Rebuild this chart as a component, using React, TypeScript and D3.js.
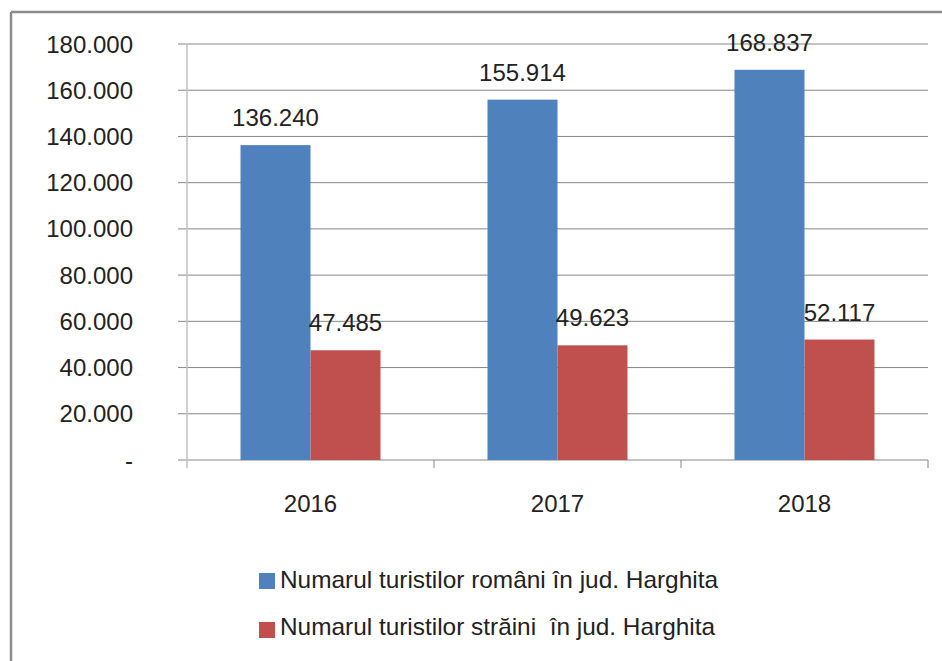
import React from "react";
import * as d3 from "d3";

const categories = ["2016", "2017", "2018"];
const romani = [136240, 155914, 168837];
const straini = [47485, 49623, 52117];
const seriesNames = [
  "Numarul turistilor români în jud. Harghita",
  "Numarul turistilor străini  în jud. Harghita",
];
const seriesColors = ["#4F81BD", "#C0504D"];
const yTicks = [0, 20000, 40000, 60000, 80000, 100000, 120000, 140000, 160000, 180000];

const W = 942;
const H = 661;
const plotLeft = 187;
const plotRight = 928;
const plotTop = 44;
const plotBottom = 460;
const FONT = "'Liberation Sans', Arial, sans-serif";

const fmt = (v: number) => (v === 0 ? "-" : d3.format(",")(v).replace(/,/g, "."));

export default function App() {
  const x = d3.scaleBand<string>().domain(categories).range([plotLeft, plotRight]);
  const y = d3.scaleLinear().domain([0, 180000]).range([plotBottom, plotTop]);
  const barW = 70;
  const series = [romani, straini];

  return (
    <svg
      width={W}
      height={H}
      style={{ position: "absolute", left: 0, top: 0, background: "#fff" }}
      fontFamily={FONT}
    >
      <rect x={0} y={0} width={W} height={H} fill="#fff" />
      {/* outer border */}
      <line x1={11} y1={12} x2={W} y2={12} stroke="#8c8c8c" strokeWidth={2.5} />
      <line x1={11} y1={12} x2={11} y2={H} stroke="#8c8c8c" strokeWidth={2.5} />

      {/* gridlines */}
      {yTicks.map((t) => (
        <line
          key={"g" + t}
          x1={178}
          x2={plotRight}
          y1={y(t)}
          y2={y(t)}
          stroke="#868686"
          strokeWidth={1}
        />
      ))}
      {/* y axis */}
      <line x1={plotLeft} x2={plotLeft} y1={plotTop} y2={468} stroke="#c0c0c0" strokeWidth={1.5} />
      {/* category ticks */}
      {categories.map((c) => (
        <line
          key={"ct" + c}
          x1={(x(c) as number) + x.bandwidth()}
          x2={(x(c) as number) + x.bandwidth()}
          y1={plotBottom}
          y2={468}
          stroke="#868686"
        />
      ))}

      {/* y labels */}
      {yTicks.map((t) => (
        <text
          key={"yl" + t}
          x={133}
          y={y(t) + 8.5}
          textAnchor="end"
          fontSize={24}
          fill="#222"
        >
          {fmt(t)}
        </text>
      ))}

      {/* bars */}
      {series.map((vals, si) =>
        vals.map((v, i) => {
          const cx = (x(categories[i]) as number) + x.bandwidth() / 2;
          const bx = cx - barW + si * barW;
          return (
            <g key={"b" + si + i}>
              <rect
                x={bx}
                y={y(v)}
                width={barW}
                height={plotBottom - y(v)}
                fill={seriesColors[si]}
              />
              <text
                x={bx + barW / 2}
                y={y(v) - 19}
                textAnchor="middle"
                fontSize={24}
                fill="#222"
              >
                {fmt(v)}
              </text>
            </g>
          );
        })
      )}

      {/* category labels */}
      {categories.map((c) => (
        <text
          key={"cl" + c}
          x={(x(c) as number) + x.bandwidth() / 2}
          y={512}
          textAnchor="middle"
          fontSize={24}
          fill="#222"
        >
          {c}
        </text>
      ))}

      {/* legend */}
      {seriesNames.map((n, i) => (
        <g key={"lg" + i}>
          <rect x={259} y={573 + i * 49} width={16} height={16} fill={seriesColors[i]} />
          <text
            x={280}
            y={588 + i * 47}
            fontSize={24}
            fill="#222"
            textLength={i === 0 ? 438 : 435}
            lengthAdjust="spacingAndGlyphs"
            style={{ whiteSpace: "pre" }}
          >
            {n}
          </text>
        </g>
      ))}
    </svg>
  );
}
